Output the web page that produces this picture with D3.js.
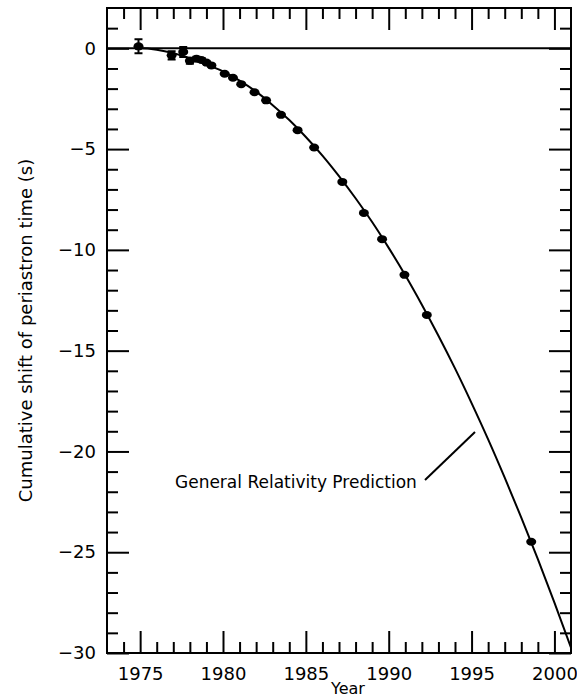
<!DOCTYPE html>
<html>
<head>
<meta charset="utf-8">
<script src="https://cdn.jsdelivr.net/npm/d3@7"></script>
<style>
  body { margin: 0; background: #fff; }
  text { font-family: "DejaVu Sans", sans-serif; fill: #000; }
  .axis path { display: none; }
  .axis line { stroke: #000; stroke-width: 2; }
</style>
</head>
<body>
<div id="chart"></div>
<script>
// 图尺寸
const width = 577;
const height = 697;
const margin = {top: 8, right: 6, bottom: 44, left: 107};

// 观测数据: 年份, 周期累积偏移 (s), 误差
const obsYears = [1974.9, 1976.9, 1977.6, 1978.0, 1978.4, 1978.7, 1979.0, 1979.3,
    1980.1, 1980.6, 1981.1, 1981.9, 1982.6, 1983.5, 1984.5, 1985.5,
    1987.2, 1988.5, 1989.6, 1990.95, 1992.3, 1998.6];
const obsShift = [0.1, -0.35, -0.18, -0.62, -0.52, -0.58, -0.71, -0.85,
    -1.26, -1.46, -1.78, -2.18, -2.58, -3.30, -4.06, -4.92,
    -6.63, -8.17, -9.47, -11.24, -13.23, -24.48];
const obsErr = [0.35, 0.2, 0.25, 0.15, 0.1, 0.1, 0.05, 0.05,
    0, 0, 0, 0, 0, 0, 0, 0, 0, 0, 0, 0, 0, 0];

// 广义相对论预测曲线
const grYears = [1974.7, 1975, 1976, 1977, 1978, 1979, 1980, 1981, 1982, 1983, 1984,
    1985, 1986, 1987, 1988, 1989, 1990, 1991, 1992, 1993, 1994,
    1995, 1996, 1997, 1998, 1999, 2000, 2001];
const grShift = [0.0, 0.0, -0.07, -0.24, -0.5, -0.8, -1.15, -1.6, -2.15, -2.82, -3.56,
    -4.40, -5.32, -6.34, -7.44, -8.62, -9.90, -11.26, -12.72, -14.26, -15.88,
    -17.60, -19.40, -21.30, -23.28, -25.34, -27.50, -29.74];

const xMajor = [1975, 1980, 1985, 1990, 1995, 2000];
const yMajor = [0, -5, -10, -15, -20, -25, -30];

const svg = d3.select("#chart").append("svg")
    .attr("width", width).attr("height", height);

const x = d3.scaleLinear().domain([1973, 2001])
    .range([margin.left, width - margin.right]);
const y = d3.scaleLinear().domain([-30, 2])
    .range([height - margin.bottom, margin.top]);

const x0 = x.range()[0], x1 = x.range()[1];
const y0 = y.range()[1], y1 = y.range()[0];

svg.append("defs").append("clipPath").attr("id", "clip")
    .append("rect")
    .attr("x", x0).attr("y", y0)
    .attr("width", x1 - x0).attr("height", y1 - y0);

const xMinor = d3.range(1974, 2001).filter(d => xMajor.indexOf(d) < 0);
const yMinor = d3.range(-29, 2).filter(d => yMajor.indexOf(d) < 0);

const bigTick = 22, smallTick = 11;

// 刻度线 (向内)
function ticks(axisFn, scale, vals, len, pos, labels) {
    const g = svg.append("g").attr("class", "axis")
        .attr("transform", pos)
        .call(axisFn(scale).tickValues(vals).tickSize(-len)
            .tickPadding(labels ? 12 : 0)
            .tickFormat(labels ? d3.format("d") : ""));
    return g;
}

// 下
ticks(d3.axisBottom, x, xMinor, smallTick, `translate(0,${y1})`, false);
const gxb = ticks(d3.axisBottom, x, xMajor, bigTick, `translate(0,${y1})`, true);
gxb.selectAll("text").attr("font-size", 18).attr("dy", "0.71em")
    .attr("y", 14);
// 上
ticks(d3.axisTop, x, xMinor, smallTick, `translate(0,${y0})`, false);
ticks(d3.axisTop, x, xMajor, bigTick, `translate(0,${y0})`, false);
// 左
ticks(d3.axisLeft, y, yMinor, smallTick, `translate(${x0},0)`, false);
const gyl = ticks(d3.axisLeft, y, yMajor, bigTick, `translate(${x0},0)`, true);
gyl.selectAll("text").attr("font-size", 18).attr("x", -11);
// 右
ticks(d3.axisRight, y, yMinor, smallTick, `translate(${x1},0)`, false);
ticks(d3.axisRight, y, yMajor, bigTick, `translate(${x1},0)`, false);

// 零线
svg.append("line")
    .attr("x1", x0).attr("x2", x1)
    .attr("y1", y(0)).attr("y2", y(0))
    .attr("stroke", "#000").attr("stroke-width", 2);

const plot = svg.append("g").attr("clip-path", "url(#clip)");

// 预测曲线
const grData = grYears.map((d, i) => ({t: d, v: grShift[i]}));
plot.append("path")
    .datum(grData)
    .attr("fill", "none")
    .attr("stroke", "#000")
    .attr("stroke-width", 2)
    .attr("d", d3.line()
        .x(d => x(d.t))
        .y(d => y(d.v))
        .curve(d3.curveMonotoneX));

// 观测点
const obs = obsYears.map((d, i) => ({t: d, v: obsShift[i], e: obsErr[i]}));

const errs = obs.filter(d => d.e > 0);
plot.append("g").selectAll("path")
    .data(errs)
    .enter()
    .append("path")
    .attr("fill", "none")
    .attr("stroke", "#000")
    .attr("stroke-width", 2)
    .attr("d", function (d) {
        const cx = x(d.t), ya = y(d.v + d.e), yb = y(d.v - d.e);
        return `M${cx - 4},${ya}H${cx + 4}M${cx},${ya}V${yb}M${cx - 4},${yb}H${cx + 4}`;
    });

plot.append("g").selectAll("ellipse")
    .data(obs)
    .enter()
    .append("ellipse")
    .attr("cx", d => x(d.t))
    .attr("cy", d => y(d.v))
    .attr("rx", 5)
    .attr("ry", 4)
    .attr("fill", "#000");

// 边框
svg.append("rect")
    .attr("x", x0).attr("y", y0)
    .attr("width", x1 - x0).attr("height", y1 - y0)
    .attr("fill", "none")
    .attr("stroke", "#000")
    .attr("stroke-width", 2);

// 注释
svg.append("text")
    .attr("x", 175).attr("y", 488)
    .attr("font-size", 17)
    .text("General Relativity Prediction");
svg.append("line")
    .attr("x1", 425).attr("y1", 480)
    .attr("x2", 475).attr("y2", 432)
    .attr("stroke", "#000").attr("stroke-width", 2);

// 坐标轴标题
svg.append("text")
    .attr("x", 348).attr("y", 694)
    .attr("text-anchor", "middle")
    .attr("font-size", 16)
    .text("Year");
svg.append("text")
    .attr("transform", `translate(32,${(y0 + y1) / 2}) rotate(-90)`)
    .attr("text-anchor", "middle")
    .attr("font-size", 18)
    .text("Cumulative shift of periastron time (s)");
</script>
</body>
</html>
